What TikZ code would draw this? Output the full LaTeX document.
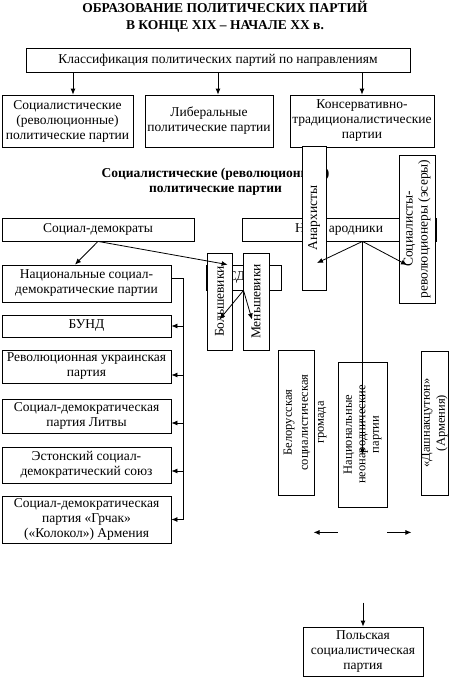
\documentclass[tikz,border=0pt]{standalone}
\usepackage{fontspec}
\setmainfont{Liberation Serif}
\usetikzlibrary{positioning,arrows.meta}

\begin{document}
\begin{tikzpicture}[x=1pt,y=-1pt,>={Latex[length=6pt,width=5pt]},line width=0.8pt,
    every node/.style={font=\fontsize{13.5}{15}\selectfont},
    box/.style={draw,fill=white,align=center,inner sep=1pt},
    vbox/.style={box,rotate=90},
    small/.style={font=\fontsize{12.5}{15}\selectfont},
    heading/.style={font=\fontsize{13.5}{17}\selectfont\bfseries,align=center}]
  \useasboundingbox (0,0) rectangle (449,677);
  \node[heading] (title) at (225,17) {ОБРАЗОВАНИЕ ПОЛИТИЧЕСКИХ ПАРТИЙ\\В КОНЦЕ XIX – НАЧАЛЕ XX в.};
  \node[box,minimum width=384pt,minimum height=24pt] (cls) at (218,60) {Классификация политических партий по направлениям};
  \node[box,minimum width=131pt,minimum height=52pt] (soc) at (67.5,121) {Социалистические\\(революционные)\\политические партии};
  \node[box,minimum width=128pt,minimum height=52pt] (lib) at (209,121) {Либеральные\\политические партии};
  \node[box,minimum width=144pt,minimum height=52pt] (cons) at (362,121) {Консервативно-\\традиционалистические\\партии};
  \draw[->] ([xshift=5.5pt]soc.north |- cls.south) -- ([xshift=5.5pt]soc.north);
  \draw[->] ([xshift=9pt]lib.north |- cls.south) -- ([xshift=9pt]lib.north);
  \draw[->] (cons.north |- cls.south) -- (cons.north);

  % revolutionary parties
  \node[heading,font=\fontsize{13.5}{15}\selectfont\bfseries] (revhead) at (215.5,181.5) {Социалистические (революционные)\\политические партии};
  \node[box,minimum width=192pt,minimum height=23pt] (sd) at (98,229.5) {Социал-демократы};
  \node[box,minimum width=194pt,minimum height=23pt] (nar) at (339,229.5) {Н\hspace{24pt}ародники};
  \node[vbox,minimum width=144pt,minimum height=24pt] (anar) at (314,218) {Анархисты};
  \node[vbox,minimum width=148pt,minimum height=36pt] (sr) at (417,229) {Социалисты-\\революционеры (эсеры)};
  \node[box,minimum width=75pt,minimum height=25pt] (rsdrp) at (243.5,277.5) {СД\hspace{14pt}};
  \node[vbox,minimum width=97pt,minimum height=25pt] (bol) at (219.5,301.5) {Большевики};
  \node[vbox,minimum width=97pt,minimum height=26pt] (men) at (256,301.5) {Меньшевики};

  % national social-democrats
  \node[box,minimum width=169pt,minimum height=37pt] (nat) at (86.5,283.5) {Национальные социал-\\демократические партии};
  \node[box,minimum width=169pt,minimum height=22pt] (bund) at (86.5,326) {БУНД};
  \node[box,minimum width=169pt,minimum height=33pt] (ukr) at (86.5,366.5) {Революционная украинская\\партия};
  \node[box,minimum width=169pt,minimum height=34pt] (lith) at (86.5,416) {Социал-демократическая\\партия Литвы};
  \node[box,minimum width=169pt,minimum height=36pt] (est) at (86.5,465) {Эстонский социал-\\демократический союз};
  \node[box,minimum width=169pt,minimum height=47pt] (grchak) at (86.5,519.5) {Социал-демократическая\\партия «Грчак»\\(«Колокол») Армения};

  \draw[->] (sd.south) -- ([xshift=-11.5pt]nat.north);
  \draw[->] (sd.south) -- ([xshift=22pt]rsdrp.north west);
  \draw[->] (rsdrp.south) -- ([yshift=-18pt]bol.center);
  \draw[->] (rsdrp.south) -- ([xshift=-4pt,yshift=-18pt]men.center);

  \coordinate (spinetop) at ([xshift=12pt,yshift=5.5pt]nat.east);
  \coordinate (spinebot) at ([xshift=12pt]grchak.east);
  \draw ([yshift=5.5pt]nat.east) -- (spinetop) -- (spinebot);
  \foreach \n/\s in {bund/0,ukr/-8.5,lith/-7,est/-6,grchak/0}
    \draw[->] ([yshift=\s pt]\n.east -| spinetop) -- ([yshift=\s pt]\n.east);

  % neo-narodniks
  \node[vbox,minimum width=145pt,minimum height=36pt] (bel) at (296,422.5) {};
  \node[small,rotate=90,align=center,font=\fontsize{12.5}{16}\selectfont] (beltext) at (305,422.5) {Белорусская\\социалистическая\\громада};
  \node[vbox,small,minimum width=145pt,minimum height=49pt,font=\fontsize{12.5}{13.5}\selectfont] (neo) at (362.5,434.5) {Национальные\\неонароднические\\партии};
  \node[vbox,small,minimum width=144pt,minimum height=27pt,inner sep=0pt] (dash) at (434.5,423) {«Дашнакцутюн»\\(Армения)};
  \node[box,minimum width=120pt,minimum height=49pt] (pol) at (363,651.5) {Польская\\социалистическая\\партия};

  \coordinate (narfoot) at ([xshift=23.5pt]nar.south);
  \draw[->] (narfoot) -- ([xshift=3pt,yshift=-45pt]anar.center);
  \draw[->] (narfoot) -- ([xshift=-10pt,yshift=-36pt]sr.center);
  \draw[->] (narfoot) -- ([yshift=-20pt]neo.center);

  % rotated node: north west is the lower left corner
  \coordinate (leftarr) at ([yshift=-25pt]neo.north west);
  \coordinate (rightarr) at ([yshift=-25pt]neo.south west);
  \draw[->] (leftarr) -- ([xshift=-24pt]leftarr);
  \draw[->] (rightarr) -- ([xshift=24pt]rightarr);
  \coordinate (polstart) at ([yshift=24pt]pol.north);
  \draw[->] (polstart) -- (pol.north);
\end{tikzpicture}
\end{document}
